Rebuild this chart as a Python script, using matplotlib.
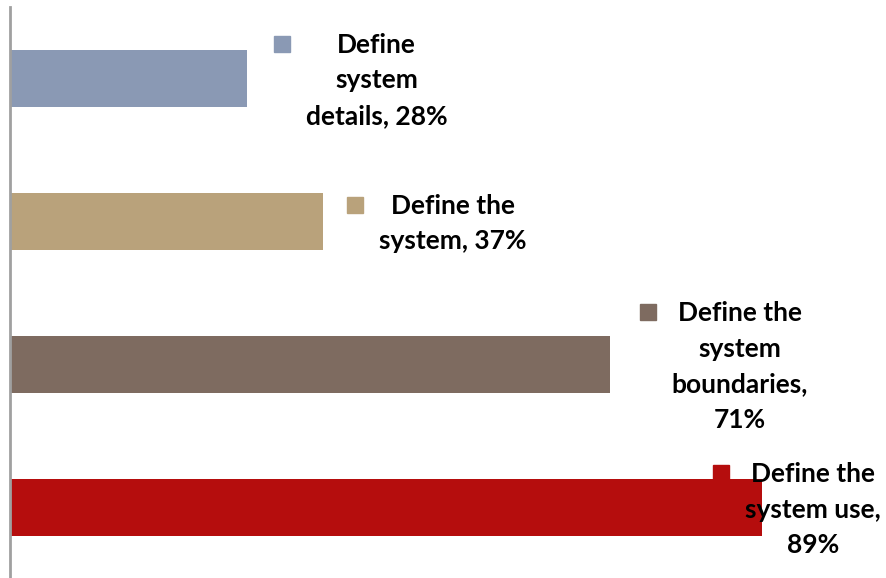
import numpy as np
import matplotlib
matplotlib.use('Agg')
import matplotlib.pyplot as plt

# data
label_text = ['Define\nsystem\ndetails, 28%', 'Define the\nsystem, 37%',
              'Define the\nsystem\nboundaries,\n71%', 'Define the\nsystem use,\n89%']
values = [0.28, 0.37, 0.71, 0.89]
colors = ['#8a99b4', '#b9a27b', '#7e6b60', '#b50d0d']

plt.rcParams['font.family'] = ['Lato', 'DejaVu Sans']

fig = plt.figure(figsize=(8.86, 5.78), dpi=100)
ax = fig.add_axes([10 / 886, -1 / 578, 876 / 886, 572 / 578])

y_pos = np.arange(len(values))
ax.barh(y_pos, values, height=0.4, color=colors)
ax.set_xlim(0, 876 / 845)
ax.set_ylim(len(values) - 0.5, -0.5)

for s in ['top', 'right', 'bottom']:
    ax.spines[s].set_visible(False)
ax.spines['left'].set_color('#a0a0a0')
ax.spines['left'].set_linewidth(2)
ax.set_xticks([])
ax.set_yticks([])

# data labels with legend keys
px = 1 / 845      # data units per pixel (x)
py = 1 / 143      # data units per pixel (y)
texts = []
for i, (v, lab) in enumerate(zip(values, label_text)):
    xc = min(v + 130 * px, 803 * px)
    t = ax.text(xc, i + 2 * py, lab, ha='center', va='center', fontsize=19,
                fontweight='bold', linespacing=1.58, multialignment='center',
                zorder=5)
    texts.append(t)

fig.canvas.draw()
renderer = fig.canvas.get_renderer()
inv = ax.transData.inverted()
for i, t in enumerate(texts):
    bb = t.get_window_extent(renderer)
    x0, y_top = inv.transform((bb.x0, bb.y1))
    # key sits left of the label block, level with the first line
    kx = x0 - 24 * px
    ky = y_top + 11 * py
    ax.plot([kx], [ky], marker='s', markersize=11, color=colors[i],
            linestyle='none', clip_on=False, zorder=4)

fig.savefig('out.png', dpi=100)
